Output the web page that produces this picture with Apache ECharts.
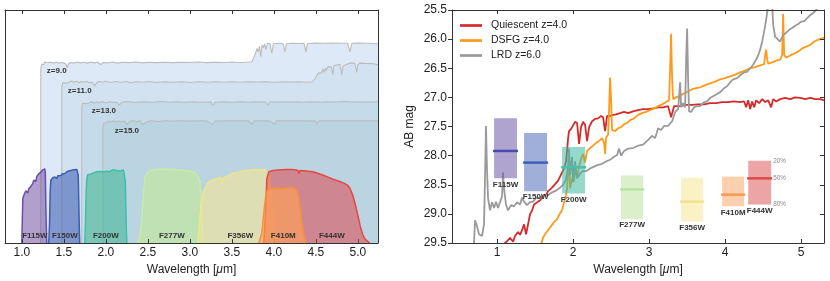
<!DOCTYPE html>
<html><head><meta charset="utf-8">
<script src="https://cdn.jsdelivr.net/npm/echarts@6/dist/echarts.min.js"></script>
<style>html,body{margin:0;padding:0;background:#fff}#c{width:830px;height:281px}</style>
</head><body><div id="c"></div>
<script>
// ---------------- DATA ----------------
// Left panel: redshifted template spectra (relative flux) and NIRCam filter throughputs
const zNames = ['z=9.0', 'z=11.0', 'z=13.0', 'z=15.0'];
const specZ9 = [[1.226,0],[1.226,0.745],[1.236,0.768],[1.248,0.772],[1.26,0.765],[1.272,0.776],[1.29,0.771],[1.31,0.775],[1.33,0.769],[1.35,0.776],[1.38,0.772],[1.41,0.777],[1.44,0.771],[1.47,0.775],[1.50,0.772],[1.525,0.768],[1.54,0.752],[1.555,0.77],[1.58,0.775],[1.62,0.772],[1.66,0.777],[1.70,0.773],[1.74,0.776],[1.78,0.772],[1.82,0.777],[1.86,0.773],[1.90,0.776],[1.94,0.766],[1.97,0.775],[2.02,0.773],[2.08,0.777],[2.14,0.772],[2.20,0.776],[2.28,0.774],[2.36,0.777],[2.44,0.773],[2.52,0.776],[2.60,0.774],[2.70,0.776],[2.80,0.774],[2.90,0.776],[3.00,0.775],[3.10,0.777],[3.20,0.774],[3.30,0.776],[3.40,0.775],[3.50,0.777],[3.60,0.775],[3.70,0.777],[3.74,0.778],[3.76,0.795],[3.78,0.812],[3.80,0.835],[3.815,0.82],[3.83,0.845],[3.845,0.80],[3.86,0.85],[3.875,0.838],[3.89,0.855],[3.905,0.83],[3.925,0.857],[3.955,0.855],[3.976,0.815],[3.995,0.855],[4.04,0.857],[4.09,0.856],[4.115,0.852],[4.131,0.82],[4.15,0.855],[4.22,0.857],[4.30,0.856],[4.36,0.857],[4.381,0.82],[4.40,0.856],[4.50,0.858],[4.60,0.857],[4.70,0.858],[4.80,0.857],[4.88,0.857],[4.905,0.82],[4.93,0.857],[5.00,0.858],[5.10,0.857],[5.20,0.856],[5.24,0.855]];
const specZ11 = [[1.476,0],[1.476,0.665],[1.488,0.688],[1.50,0.694],[1.52,0.686],[1.54,0.693],[1.56,0.689],[1.59,0.695],[1.62,0.69],[1.65,0.694],[1.68,0.688],[1.71,0.693],[1.74,0.69],[1.77,0.694],[1.80,0.689],[1.84,0.69],[1.869,0.674],[1.89,0.688],[1.92,0.693],[1.96,0.69],[2.00,0.694],[2.06,0.689],[2.12,0.693],[2.18,0.69],[2.24,0.693],[2.30,0.688],[2.36,0.692],[2.44,0.69],[2.52,0.693],[2.60,0.689],[2.70,0.692],[2.80,0.69],[2.90,0.692],[3.00,0.689],[3.10,0.692],[3.20,0.69],[3.30,0.692],[3.40,0.69],[3.50,0.692],[3.60,0.69],[3.70,0.692],[3.80,0.691],[3.90,0.692],[4.00,0.69],[4.10,0.692],[4.20,0.691],[4.30,0.692],[4.40,0.69],[4.46,0.692],[4.49,0.705],[4.512,0.718],[4.53,0.73],[4.548,0.738],[4.565,0.728],[4.583,0.748],[4.60,0.732],[4.615,0.752],[4.625,0.74],[4.645,0.757],[4.667,0.758],[4.685,0.755],[4.702,0.722],[4.715,0.762],[4.726,0.767],[4.786,0.767],[4.798,0.76],[4.81,0.722],[4.825,0.76],[4.845,0.768],[4.905,0.773],[4.964,0.771],[4.976,0.765],[4.988,0.732],[5.00,0.765],[5.024,0.772],[5.10,0.771],[5.18,0.77],[5.24,0.765]];
const specZ13 = [[1.714,0],[1.714,0.585],[1.726,0.6],[1.74,0.606],[1.76,0.598],[1.78,0.605],[1.80,0.601],[1.83,0.607],[1.86,0.60],[1.89,0.606],[1.92,0.602],[1.96,0.607],[2.00,0.601],[2.05,0.606],[2.10,0.603],[2.13,0.605],[2.16,0.592],[2.19,0.604],[2.25,0.607],[2.35,0.603],[2.45,0.606],[2.55,0.604],[2.65,0.607],[2.75,0.604],[2.85,0.606],[2.95,0.604],[3.05,0.606],[3.15,0.604],[3.25,0.605],[3.274,0.59],[3.30,0.604],[3.40,0.606],[3.50,0.604],[3.60,0.606],[3.70,0.605],[3.80,0.606],[3.90,0.605],[3.929,0.592],[3.95,0.605],[4.05,0.606],[4.15,0.605],[4.25,0.606],[4.35,0.605],[4.45,0.606],[4.55,0.605],[4.65,0.606],[4.75,0.605],[4.85,0.607],[4.95,0.605],[5.05,0.606],[5.15,0.605],[5.24,0.606]];
const specZ15 = [[1.964,0],[1.964,0.50],[1.978,0.515],[1.99,0.522],[2.01,0.515],[2.03,0.524],[2.06,0.519],[2.09,0.525],[2.12,0.519],[2.15,0.524],[2.19,0.52],[2.22,0.524],[2.25,0.508],[2.28,0.52],[2.32,0.525],[2.37,0.521],[2.41,0.525],[2.44,0.507],[2.47,0.517],[2.51,0.523],[2.56,0.525],[2.62,0.521],[2.70,0.525],[2.80,0.523],[2.90,0.525],[3.00,0.523],[3.10,0.525],[3.20,0.524],[3.274,0.508],[3.30,0.523],[3.40,0.525],[3.50,0.524],[3.60,0.525],[3.70,0.524],[3.738,0.508],[3.76,0.523],[3.85,0.525],[3.95,0.524],[4.012,0.51],[4.03,0.524],[4.10,0.525],[4.20,0.524],[4.30,0.525],[4.40,0.524],[4.50,0.523],[4.512,0.508],[4.53,0.523],[4.60,0.525],[4.70,0.524],[4.80,0.525],[4.90,0.524],[5.00,0.525],[5.10,0.524],[5.24,0.524]];

const filterNames = ['F115W', 'F150W', 'F200W', 'F277W', 'F356W', 'F410M', 'F444W'];
const thrF115W = [[1.0,0],[1.008,0.13],[1.012,0.19],[1.024,0.205],[1.036,0.212],[1.048,0.224],[1.06,0.232],[1.071,0.214],[1.083,0.233],[1.095,0.238],[1.107,0.242],[1.119,0.234],[1.131,0.256],[1.143,0.27],[1.155,0.274],[1.167,0.264],[1.179,0.286],[1.19,0.294],[1.202,0.297],[1.214,0.29],[1.226,0.304],[1.238,0.31],[1.25,0.314],[1.262,0.318],[1.274,0.318],[1.28,0.30],[1.286,0.16],[1.294,0.03],[1.298,0]];
const thrF150W = [[1.321,0],[1.33,0.08],[1.338,0.22],[1.345,0.268],[1.357,0.275],[1.369,0.28],[1.381,0.276],[1.393,0.283],[1.405,0.279],[1.417,0.277],[1.429,0.289],[1.441,0.29],[1.452,0.294],[1.464,0.29],[1.476,0.298],[1.488,0.297],[1.50,0.301],[1.512,0.298],[1.524,0.303],[1.536,0.306],[1.548,0.304],[1.56,0.309],[1.571,0.311],[1.583,0.308],[1.595,0.312],[1.607,0.31],[1.62,0.314],[1.63,0.312],[1.643,0.315],[1.655,0.316],[1.667,0.315],[1.672,0.29],[1.679,0.16],[1.686,0.04],[1.69,0]];
const thrF200W = [[1.75,0],[1.758,0.09],[1.766,0.22],[1.774,0.277],[1.786,0.294],[1.80,0.297],[1.82,0.295],[1.833,0.299],[1.85,0.301],[1.87,0.298],[1.893,0.306],[1.91,0.303],[1.93,0.307],[1.952,0.302],[1.97,0.306],[1.99,0.304],[2.012,0.308],[2.03,0.31],[2.05,0.307],[2.071,0.312],[2.09,0.315],[2.107,0.316],[2.12,0.311],[2.14,0.314],[2.167,0.309],[2.19,0.312],[2.21,0.313],[2.226,0.31],[2.232,0.27],[2.238,0.16],[2.245,0.05],[2.25,0]];
const thrF277W = [[2.381,0],[2.405,0.03],[2.429,0.094],[2.44,0.17],[2.452,0.234],[2.47,0.285],[2.488,0.298],[2.51,0.307],[2.535,0.312],[2.57,0.313],[2.607,0.315],[2.65,0.316],[2.70,0.316],[2.75,0.315],[2.80,0.316],[2.85,0.314],[2.90,0.313],[2.94,0.311],[2.98,0.309],[3.036,0.306],[3.06,0.302],[3.083,0.298],[3.10,0.285],[3.119,0.264],[3.132,0.2],[3.143,0.12],[3.15,0.03],[3.155,0]];
const thrF356W = [[3.095,0],[3.11,0.06],[3.131,0.162],[3.155,0.21],[3.179,0.234],[3.21,0.255],[3.238,0.264],[3.28,0.272],[3.321,0.277],[3.345,0.279],[3.369,0.281],[3.381,0.251],[3.393,0.275],[3.405,0.281],[3.44,0.287],[3.475,0.292],[3.512,0.298],[3.55,0.302],[3.6,0.306],[3.64,0.309],[3.679,0.311],[3.72,0.313],[3.76,0.314],[3.80,0.315],[3.833,0.315],[3.87,0.314],[3.90,0.312],[3.917,0.311],[3.935,0.298],[3.952,0.277],[3.965,0.22],[3.976,0.162],[3.99,0.06],[4.0,0]];
const thrF410M = [[3.821,0],[3.84,0.02],[3.857,0.043],[3.875,0.11],[3.893,0.17],[3.905,0.205],[3.917,0.221],[3.93,0.23],[3.952,0.234],[4.0,0.235],[4.071,0.234],[4.15,0.236],[4.226,0.238],[4.25,0.235],[4.274,0.226],[4.29,0.205],[4.298,0.191],[4.31,0.16],[4.321,0.128],[4.333,0.095],[4.345,0.064],[4.36,0.03],[4.381,0]];
const thrF444W = [[3.881,0],[3.893,0.08],[3.905,0.162],[3.917,0.277],[3.94,0.306],[3.988,0.311],[4.05,0.313],[4.10,0.314],[4.155,0.315],[4.20,0.315],[4.25,0.314],[4.286,0.311],[4.298,0.298],[4.31,0.311],[4.36,0.31],[4.41,0.308],[4.464,0.306],[4.52,0.299],[4.58,0.292],[4.631,0.285],[4.69,0.276],[4.74,0.27],[4.786,0.264],[4.84,0.256],[4.881,0.247],[4.91,0.232],[4.94,0.204],[4.97,0.165],[5.0,0.119],[5.03,0.07],[5.06,0.034],[5.09,0.015],[5.107,0.009],[5.143,0]];

// Right panel: spectra in AB mag
const specNames = ['Quiescent z=4.0', 'DSFG z=4.0', 'LRD z=6.0'];
const quiescentSpec = [[1.079,29.53],[1.132,29.47],[1.171,29.41],[1.211,29.48],[1.237,29.38],[1.276,29.31],[1.303,29.36],[1.329,29.28],[1.355,29.18],[1.382,29.35],[1.408,29.18],[1.434,29.01],[1.461,28.94],[1.487,28.84],[1.513,28.87],[1.539,28.79],[1.566,28.77],[1.592,28.72],[1.618,28.67],[1.645,28.68],[1.671,28.61],[1.697,28.60],[1.724,28.55],[1.750,28.51],[1.776,28.53],[1.803,28.43],[1.829,28.36],[1.855,28.33],[1.882,28.22],[1.908,28.10],[1.921,27.92],[1.934,27.71],[1.947,27.58],[1.974,27.54],[2.000,27.51],[2.026,27.42],[2.053,27.44],[2.079,27.80],[2.105,27.51],[2.132,27.42],[2.158,27.47],[2.184,27.75],[2.211,27.51],[2.250,27.41],[2.289,27.37],[2.329,27.36],[2.368,27.32],[2.395,27.34],[2.421,27.58],[2.447,27.32],[2.487,27.32],[2.526,27.30],[2.566,27.29],[2.618,27.27],[2.671,27.25],[2.724,27.27],[2.789,27.24],[2.855,27.22],[2.921,27.20],[2.987,27.20],[3.053,27.19],[3.118,27.17],[3.184,27.17],[3.250,27.15],[3.289,27.34],[3.329,27.15],[3.408,27.15],[3.487,27.13],[3.566,27.13],[3.645,27.12],[3.724,27.12],[3.803,27.10],[3.882,27.10],[3.961,27.08],[4.039,27.08],[4.118,27.07],[4.197,27.08],[4.250,27.07],[4.276,27.17],[4.303,27.05],[4.329,27.20],[4.355,27.07],[4.382,27.17],[4.408,27.05],[4.447,27.10],[4.487,27.03],[4.526,27.08],[4.566,27.05],[4.605,27.17],[4.632,27.03],[4.671,27.07],[4.724,27.03],[4.789,27.01],[4.855,27.03],[4.921,27.00],[4.987,27.01],[5.053,27.03],[5.118,27.01],[5.184,27.03],[5.250,27.03],[5.303,27.05]];
const dsfgSpec = [[1.579,29.53],[1.605,29.41],[1.632,29.35],[1.671,29.28],[1.711,29.21],[1.750,29.14],[1.789,29.09],[1.829,28.99],[1.855,28.94],[1.882,28.80],[1.908,28.67],[1.921,28.56],[1.934,28.26],[1.947,28.09],[1.961,28.56],[1.987,28.39],[2.013,28.44],[2.026,28.26],[2.053,28.36],[2.079,28.19],[2.105,28.05],[2.132,27.97],[2.158,28.12],[2.184,27.92],[2.224,27.87],[2.263,27.83],[2.303,27.78],[2.342,27.75],[2.382,27.70],[2.408,27.78],[2.421,27.97],[2.434,27.69],[2.461,27.64],[2.474,27.20],[2.487,26.66],[2.500,27.03],[2.513,27.56],[2.553,27.58],[2.592,27.53],[2.632,27.51],[2.671,27.46],[2.711,27.44],[2.750,27.39],[2.803,27.36],[2.855,27.30],[2.908,27.27],[2.961,27.25],[3.013,27.22],[3.066,27.19],[3.118,27.15],[3.171,27.12],[3.224,27.08],[3.263,27.05],[3.276,26.52],[3.289,25.91],[3.303,26.69],[3.316,27.03],[3.355,27.00],[3.408,26.97],[3.461,26.93],[3.513,26.90],[3.566,26.86],[3.618,26.84],[3.671,26.83],[3.737,26.79],[3.803,26.76],[3.868,26.73],[3.934,26.69],[4.000,26.67],[4.066,26.64],[4.132,26.61],[4.197,26.57],[4.263,26.54],[4.329,26.50],[4.395,26.48],[4.461,26.45],[4.513,26.43],[4.526,26.27],[4.539,26.18],[4.553,26.35],[4.566,26.42],[4.618,26.40],[4.671,26.37],[4.724,26.35],[4.750,26.27],[4.763,25.57],[4.776,26.27],[4.803,26.32],[4.855,26.28],[4.908,26.25],[4.961,26.21],[5.013,26.16],[5.066,26.13],[5.118,26.10],[5.171,26.04],[5.224,26.01],[5.263,25.99],[5.303,25.98]];
const lrdSpec = [[0.697,29.53],[0.711,29.11],[0.737,29.21],[0.763,29.35],[0.803,29.38],[0.829,29.18],[0.842,28.39],[0.855,27.49],[0.868,28.22],[0.882,28.73],[0.908,28.94],[0.934,28.80],[0.961,28.90],[0.987,28.79],[1.013,28.90],[1.039,28.92],[1.066,28.70],[1.079,28.29],[1.092,28.56],[1.118,28.84],[1.145,28.94],[1.184,28.85],[1.224,28.87],[1.263,28.80],[1.303,28.84],[1.329,28.72],[1.355,28.79],[1.395,28.85],[1.434,28.80],[1.474,28.79],[1.513,28.73],[1.566,28.72],[1.618,28.68],[1.671,28.68],[1.724,28.63],[1.776,28.60],[1.829,28.55],[1.868,28.50],[1.908,28.41],[1.934,28.19],[1.947,27.88],[1.961,28.33],[1.987,28.02],[2.000,28.46],[2.026,28.10],[2.053,28.39],[2.092,28.31],[2.132,28.26],[2.171,28.27],[2.224,28.22],[2.276,28.19],[2.329,28.16],[2.382,28.14],[2.434,28.10],[2.487,28.07],[2.539,28.02],[2.579,27.99],[2.605,27.88],[2.632,28.00],[2.671,27.92],[2.724,27.88],[2.789,27.87],[2.855,27.83],[2.921,27.81],[2.987,27.73],[3.039,27.66],[3.079,27.70],[3.118,27.53],[3.158,27.56],[3.197,27.49],[3.250,27.49],[3.303,27.41],[3.342,27.25],[3.382,27.20],[3.408,26.74],[3.421,27.17],[3.447,27.10],[3.474,27.17],[3.487,26.35],[3.500,25.82],[3.513,26.69],[3.526,27.24],[3.553,27.25],[3.592,27.17],[3.632,27.15],[3.671,27.15],[3.724,27.08],[3.763,27.07],[3.803,27.01],[3.842,26.98],[3.882,26.95],[3.934,26.91],[3.987,26.84],[4.026,26.81],[4.066,26.74],[4.105,26.69],[4.158,26.67],[4.197,26.62],[4.250,26.57],[4.289,26.56],[4.329,26.50],[4.368,26.44],[4.408,26.35],[4.434,26.28],[4.461,26.18],[4.487,26.04],[4.513,25.87],[4.539,25.67],[4.566,25.41],[4.592,24.99],[4.618,25.41],[4.632,25.76],[4.658,25.96],[4.697,26.01],[4.724,26.04],[4.763,25.93],[4.803,25.89],[4.842,25.84],[4.882,25.81],[4.921,25.77],[4.961,25.74],[5.000,25.70],[5.039,25.69],[5.079,25.64],[5.118,25.59],[5.158,25.55],[5.197,25.50],[5.237,25.41]];

// Right panel photometry: filter centre, half width (um), 20/50/80 percentile mags
const photCenter = [1.112, 1.507, 2.007, 2.776, 3.566, 4.105, 4.454];
const photHalfWidth = [0.151, 0.151, 0.151, 0.145, 0.145, 0.145, 0.151];
const photP20 = [27.36, 27.61, 27.85, 28.34, 28.38, 28.36, 28.09];
const photP50 = [27.92, 28.12, 28.20, 28.58, 28.79, 28.67, 28.39];
const photP80 = [28.39, 28.61, 28.65, 29.09, 29.13, 28.87, 28.84];
const pctLabels = ['20%', '50%', '80%'];

const ticksLeft = [1.0, 1.5, 2.0, 2.5, 3.0, 3.5, 4.0, 4.5, 5.0];
const ticksRight = [1, 2, 3, 4, 5];

// ---------------- STYLE / LAYOUT ----------------
const FONT = '"Liberation Sans", Arial, sans-serif';
const zFill = ['#dde9f7', '#d2e2f0', '#c6dbea', '#bbd4e2'];
const zLabelAt = [[1.298, 0.74], [1.548, 0.653], [1.833, 0.568], [2.107, 0.483]];
const filterCurves = [thrF115W, thrF150W, thrF200W, thrF277W, thrF356W, thrF444W, thrF410M];
const filterCurveNames = ['F115W', 'F150W', 'F200W', 'F277W', 'F356W', 'F444W', 'F410M'];
const filterEdge = {F115W:'#6652ad', F150W:'#3b5db3', F200W:'#3fbfa6', F277W:'#c9eba6', F356W:'#eee68a', F410M:'#f78f3c', F444W:'#e5483f'};
const filterFillL = {F115W:'rgba(128,95,170,0.6)', F150W:'rgba(68,100,182,0.6)', F200W:'rgba(65,182,150,0.58)', F277W:'rgba(193,234,150,0.6)', F356W:'rgba(243,229,150,0.6)', F410M:'rgba(255,160,87,0.65)', F444W:'rgba(226,58,64,0.5)'};
const filterLabelXL = {F115W:1.155, F150W:1.512, F200W:2.0, F277W:2.786, F356W:3.601, F410M:4.113, F444W:4.69};
const boxFill = ['rgba(110,90,170,0.55)','rgba(80,110,185,0.55)','rgba(60,185,160,0.55)','rgba(190,225,160,0.55)','rgba(245,230,150,0.55)','rgba(250,170,110,0.55)','rgba(220,90,90,0.55)'];
const boxLine = ['#4b4bab','#3d5fb5','#4bbfa9','#b5e3a0','#f2e38a','#f79a50','#e04848'];
const specColors = ['#d62a2a', '#ff9a1a', '#9a9a9a'];

// ---------------- CHART ----------------
const chart = echarts.init(document.getElementById('c'), null, {renderer: 'canvas', width: 830, height: 281});

const axisCol = '#333';
function xAx(grid, pos, min, max, ticks, fmt, showLabel) {
  return {
    gridIndex: grid, type: 'value', position: pos, min: min, max: max, z: 10,
    axisLine: {show: true, onZero: false, lineStyle: {color: axisCol, width: 1}},
    axisTick: {show: true, inside: true, length: 4, customValues: ticks, lineStyle: {color: axisCol, width: 1}},
    axisLabel: {show: showLabel, customValues: ticks, formatter: fmt, color: '#222', fontSize: 12, fontFamily: FONT, margin: 4},
    splitLine: {show: false},
    name: showLabel ? 'Wavelength [{it|μ}m]' : '', nameLocation: 'middle', nameGap: 21,
    nameTextStyle: {fontSize: 12, fontFamily: FONT, color: '#222', rich: {it: {fontStyle: 'italic', fontSize: 12, fontFamily: FONT, color: '#222'}}}
  };
}

const series = [];
// left: redshifted spectra
[specZ9, specZ11, specZ13, specZ15].forEach((d, i) => {
  series.push({type: 'line', name: zNames[i], xAxisIndex: 0, yAxisIndex: 0, data: d, symbol: 'none', silent: true,
    lineStyle: {color: '#bcbcbc', width: 1.1}, areaStyle: {color: zFill[i], opacity: 1}, z: 1 + i});
});
// left: filter curves
filterCurves.forEach((d, i) => {
  const n = filterCurveNames[i];
  series.push({type: 'line', name: n, xAxisIndex: 0, yAxisIndex: 0, data: d, symbol: 'none', silent: true,
    lineStyle: {color: filterEdge[n], width: 1.5}, areaStyle: {color: filterFillL[n], opacity: 1}, z: 6 + i});
});
// left: text labels (z labels + filter names)
const leftLabelData = [];
zNames.forEach((n, i) => leftLabelData.push([zLabelAt[i][0], zLabelAt[i][1], n, 'left', 0]));
filterNames.forEach(n => leftLabelData.push([filterLabelXL[n], 0, n, 'center', -7]));
series.push({type: 'custom', xAxisIndex: 0, yAxisIndex: 0, silent: true, z: 20, data: leftLabelData,
  renderItem: (p, api) => {
    const row = leftLabelData[p.dataIndex];
    const pt = api.coord([row[0], row[1]]);
    return {type: 'text', x: pt[0], y: pt[1] + row[4], style: {text: row[2], fill: '#333', font: 'bold 8px ' + FONT, align: row[3], verticalAlign: 'middle'}};
  }});

// right: spectra
[quiescentSpec, dsfgSpec, lrdSpec].forEach((d, i) => {
  series.push({type: 'line', name: specNames[i], xAxisIndex: 2, yAxisIndex: 2, data: d, symbol: 'none', showSymbol: false,
    silent: true, clip: true, lineStyle: {color: specColors[i], width: 1.8}, itemStyle: {color: specColors[i]}, z: 3 + i});
});
// right: photometry boxes
const boxData = photCenter.map((c, i) => [c, photHalfWidth[i], photP20[i], photP50[i], photP80[i]]);
series.push({type: 'custom', xAxisIndex: 2, yAxisIndex: 2, silent: true, z: 10, data: boxData,
  renderItem: (p, api) => {
    const i = p.dataIndex;
    const r = boxData[i];
    const a = api.coord([r[0] - r[1], r[2]]), b = api.coord([r[0] + r[1], r[4]]);
    const m1 = api.coord([r[0] - r[1], r[3]]), m2 = api.coord([r[0] + r[1], r[3]]);
    return {type: 'group', children: [
      {type: 'rect', shape: {x: a[0], y: a[1], width: b[0] - a[0], height: b[1] - a[1]}, style: {fill: boxFill[i]}},
      {type: 'line', shape: {x1: m1[0] - 1, y1: m1[1], x2: m2[0] + 1, y2: m2[1]}, style: {stroke: boxLine[i], lineWidth: 2.5}},
      {type: 'text', x: (a[0] + b[0]) / 2, y: b[1] + 6, style: {text: filterNames[i], fill: '#333', font: 'bold 8px ' + FONT, align: 'center', verticalAlign: 'middle'}}
    ]};
  }});
// right: percentile labels next to the last box
const last = photCenter.length - 1;
const pctData = [[photCenter[last] + photHalfWidth[last], photP20[last], pctLabels[0]], [photCenter[last] + photHalfWidth[last], photP50[last], pctLabels[1]], [photCenter[last] + photHalfWidth[last], photP80[last], pctLabels[2]]];
series.push({type: 'custom', xAxisIndex: 2, yAxisIndex: 2, silent: true, z: 11, data: pctData,
  renderItem: (p, api) => {
    const r = pctData[p.dataIndex];
    const pt = api.coord([r[0], r[1]]);
    return {type: 'text', x: pt[0] + 2, y: pt[1], style: {text: r[2], fill: '#8a8a8a', font: '6.3px ' + FONT, align: 'left', verticalAlign: 'middle'}};
  }});

const option = {
  animation: false,
  backgroundColor: '#fff',
  grid: [
    {left: 5, top: 10, width: 373, height: 235},
    {left: 452, top: 10, width: 372, height: 235}
  ],
  xAxis: [
    xAx(0, 'bottom', 0.8, 5.24, ticksLeft, v => v.toFixed(1), true),
    xAx(0, 'top', 0.8, 5.24, ticksLeft, v => v.toFixed(1), false),
    xAx(1, 'bottom', 0.408, 5.30, ticksRight, v => String(Math.round(v)), true),
    xAx(1, 'top', 0.408, 5.30, ticksRight, v => String(Math.round(v)), false)
  ],
  yAxis: [
    {gridIndex: 0, type: 'value', min: 0, max: 1, position: 'left', z: 10,
      axisLine: {show: true, onZero: false, lineStyle: {color: axisCol}}, axisTick: {show: false}, axisLabel: {show: false}, splitLine: {show: false}},
    {gridIndex: 0, type: 'value', min: 0, max: 1, position: 'right', z: 10,
      axisLine: {show: true, onZero: false, lineStyle: {color: axisCol}}, axisTick: {show: false}, axisLabel: {show: false}, splitLine: {show: false}},
    {gridIndex: 1, type: 'value', min: 25.5, max: 29.5, interval: 0.5, inverse: true, position: 'left', z: 10,
      axisLine: {show: true, onZero: false, lineStyle: {color: axisCol}},
      axisTick: {show: true, inside: false, length: 4, lineStyle: {color: axisCol}},
      axisLabel: {show: true, formatter: v => v.toFixed(1), color: '#222', fontSize: 12, fontFamily: FONT, margin: 5},
      splitLine: {show: false},
      name: 'AB mag', nameLocation: 'middle', nameGap: 36, nameRotate: 90,
      nameTextStyle: {fontSize: 12, fontFamily: FONT, color: '#222'}},
    {gridIndex: 1, type: 'value', min: 25.5, max: 29.5, interval: 0.5, inverse: true, position: 'right', z: 10,
      axisLine: {show: true, onZero: false, lineStyle: {color: axisCol}},
      axisTick: {show: true, inside: true, length: 4, lineStyle: {color: axisCol}},
      axisLabel: {show: false}, splitLine: {show: false}}
  ],
  legend: {
    data: specNames.map((n, i) => ({name: n, icon: 'rect', itemStyle: {color: specColors[i]}})),
    orient: 'vertical', left: 460, top: 20, padding: 0,
    itemWidth: 22, itemHeight: 2.7, itemGap: 4,
    textStyle: {fontSize: 10.5, fontFamily: FONT, color: '#222', lineHeight: 10.5, padding: [0, 0, 0, 4]},
    selectedMode: false
  },
  series: series
};
chart.setOption(option);
</script></body></html>
